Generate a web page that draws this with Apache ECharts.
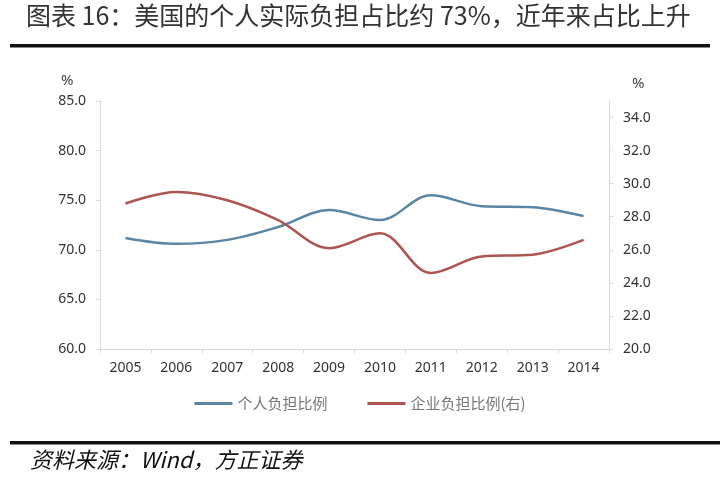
<!DOCTYPE html>
<html><head><meta charset="utf-8">
<script src="https://cdn.jsdelivr.net/npm/echarts@6/dist/echarts.min.js"></script>
<style>html,body{margin:0;padding:0;background:#fff}#c{width:720px;height:482px}</style>
</head><body><div id="c"></div>
<script>
var years = ['2005','2006','2007','2008','2009','2010','2011','2012','2013','2014'];
var personal = [71.2, 70.6, 71.0, 72.3, 74.0, 73.0, 75.5, 74.4, 74.3, 73.4];
var corporate = [28.8, 29.5, 29.0, 27.8, 26.1, 27.0, 24.6, 25.6, 25.7, 26.6];
var seriesNames = ['个人负担比例', '企业负担比例(右)'];
var titleText = '图表 16：美国的个人实际负担占比约 73%，近年来占比上升';
var sourceText = '资料来源：Wind，方正证券';

var chart = echarts.init(document.getElementById('c'), null, {renderer:'canvas'});
var font = '"Noto Sans CJK SC", "Noto Sans", sans-serif';
chart.setOption({
  backgroundColor: '#fff',
  animation: false,
  textStyle: {fontFamily: font},
  graphic: [
    {type:'text', left: 26, top: 3, style:{text: titleText, font: '25px "Noto Sans CJK SC"', fill:'#333'}},
    {type:'rect', shape:{x:10, y:44, width:700, height:3.5}, style:{fill:'#111'}},
    {type:'rect', shape:{x:10, y:441, width:710, height:3.5}, style:{fill:'#111'}},
    {type:'text', left: 30, top: 449, style:{text: sourceText, font: 'italic 22px "Noto Sans CJK SC"', fill:'#111'}},
    {type:'text', left: 61, top: 73, style:{text:'%', font:'15px "Noto Sans"', fill:'#444'}},
    {type:'text', left: 632, top: 76, style:{text:'%', font:'15px "Noto Sans"', fill:'#444'}}
  ],
  legend: {
    bottom: 66, left: 'center', itemGap: 40, itemWidth: 38, itemHeight: 3,
    icon: 'rect',
    textStyle: {color:'#777', fontSize: 15, fontFamily: font},
    data: seriesNames
  },
  grid: {left: 100, right: 111, top: 101, bottom: 133},
  xAxis: {
    type:'category', data: years, boundaryGap: true,
    axisLine:{lineStyle:{color:'#d9d9d9'}},
    axisTick:{show:true, lineStyle:{color:'#d9d9d9'}, length:4},
    axisLabel:{color:'#333', fontSize:14, margin:12, fontFamily:'"Noto Sans"'}
  },
  yAxis: [
    {type:'value', min:60, max:85, interval:5, position:'left',
     axisLine:{show:true, lineStyle:{color:'#d9d9d9'}},
     axisTick:{show:true, lineStyle:{color:'#d9d9d9'}, length:4},
     splitLine:{show:false},
     axisLabel:{color:'#333', fontSize:14, margin:14, fontFamily:'"Noto Sans"', formatter:function(v){return v.toFixed(1);}}
    },
    {type:'value', min:20, max:35, interval:2, position:'right',
     axisLine:{show:true, lineStyle:{color:'#d9d9d9'}},
     axisTick:{show:true, lineStyle:{color:'#d9d9d9'}, length:4},
     splitLine:{show:false},
     axisLabel:{color:'#333', fontSize:14, margin:14, showMaxLabel:false, fontFamily:'"Noto Sans"', formatter:function(v){return v.toFixed(1);}}
    }
  ],
  series: [
    {name: seriesNames[0], type:'line', data: personal, yAxisIndex:0, smooth:0.35, symbol:'none',
     lineStyle:{color:'#5a86a6', width:2.5}, itemStyle:{color:'#5a86a6'}},
    {name: seriesNames[1], type:'line', data: corporate, yAxisIndex:1, smooth:0.35, symbol:'none',
     lineStyle:{color:'#ad5550', width:2.5}, itemStyle:{color:'#ad5550'}}
  ]
});
</script></body></html>
